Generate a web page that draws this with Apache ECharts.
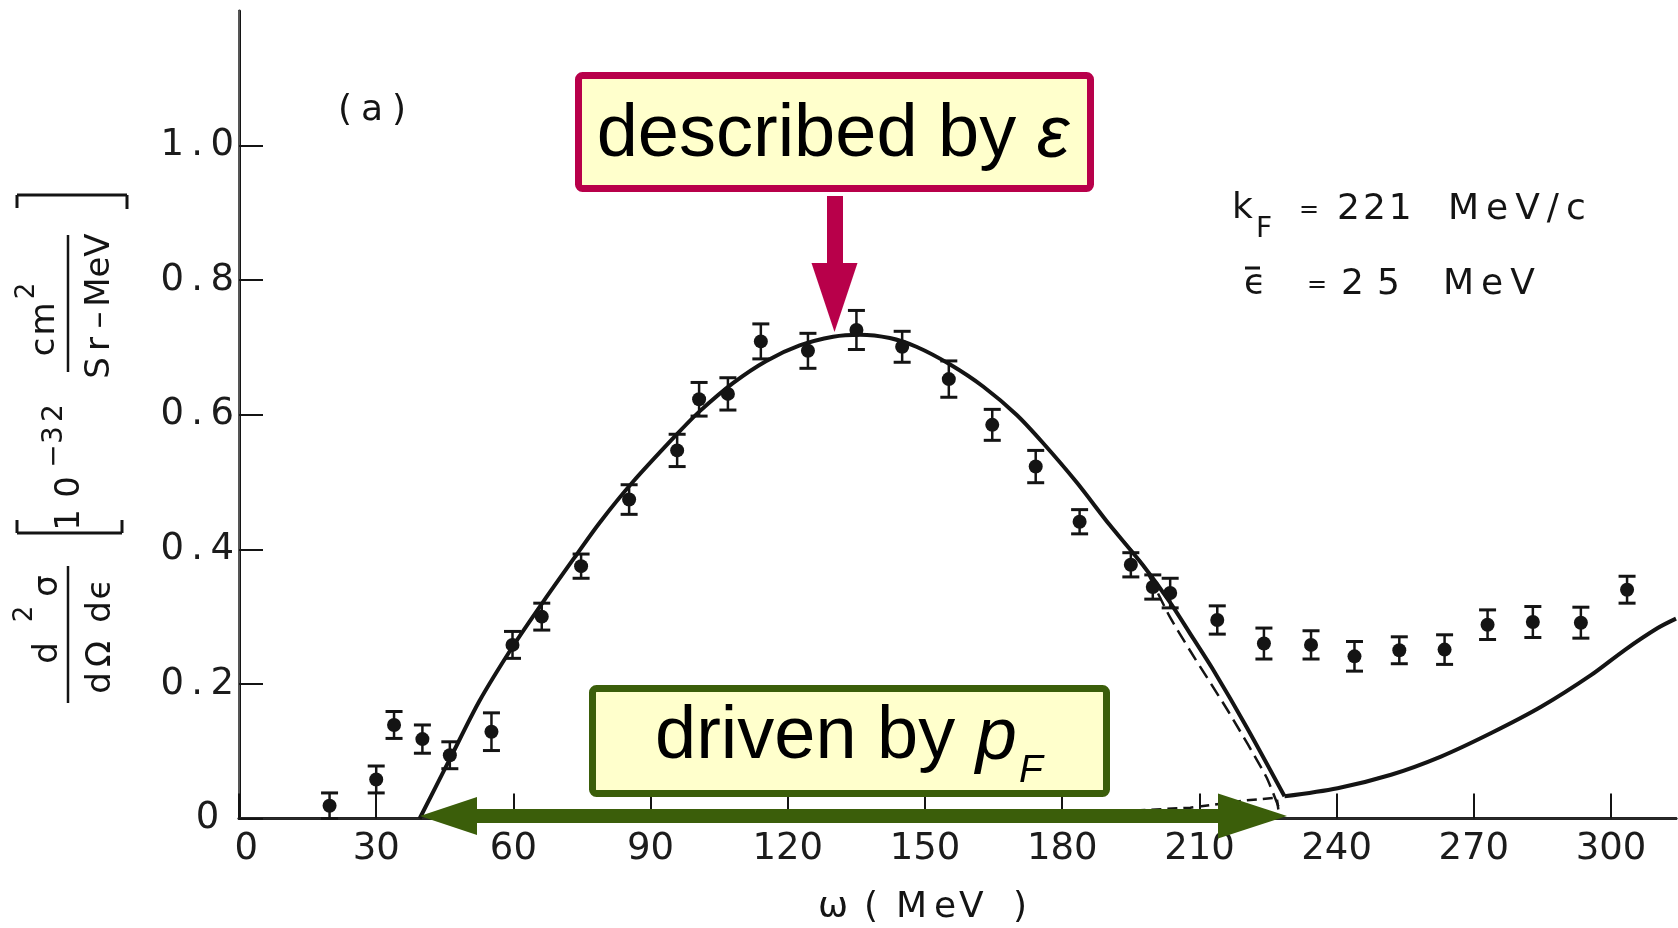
<!DOCTYPE html>
<html>
<head>
<meta charset="utf-8">
<script src="https://cdn.jsdelivr.net/npm/echarts@6/dist/echarts.min.js"></script>
<style>
  html, body { margin: 0; padding: 0; background: #ffffff; }
  #chart { width: 1678px; height: 928px; }
</style>
</head>
<body>
<div id="chart"></div>
<script>
// Measured inclusive cross section: energy transfer omega (MeV),
// d2sigma/dOmega/de (1e-32 cm^2 / sr-MeV) and its error
const omega = [19.8, 30.0, 33.9, 40.1, 46.1, 55.2, 59.8, 66.2, 74.8, 85.3, 95.8, 100.6, 106.9, 114.1,
  124.4, 135.0, 145.0, 155.2, 164.7, 174.2, 183.8, 195.0, 199.8, 203.6, 213.9, 224.1, 234.4,
  243.9, 253.7, 263.6, 273.0, 282.9, 293.4, 303.5];
const sigma = [0.019, 0.058, 0.139, 0.118, 0.094, 0.129, 0.258, 0.300, 0.375, 0.474, 0.547, 0.623, 0.631, 0.709,
  0.695, 0.726, 0.701, 0.653, 0.585, 0.523, 0.441, 0.377, 0.344, 0.335, 0.295, 0.260, 0.258,
  0.241, 0.250, 0.251, 0.288, 0.292, 0.291, 0.340];
const sigmaErr = [0.019, 0.020, 0.020, 0.021, 0.020, 0.028, 0.020, 0.020, 0.018, 0.022, 0.024, 0.025, 0.024, 0.026,
  0.026, 0.029, 0.023, 0.027, 0.023, 0.024, 0.018, 0.018, 0.018, 0.022, 0.021, 0.023, 0.021,
  0.022, 0.020, 0.022, 0.022, 0.023, 0.023, 0.020];

// Fermi-gas quasielastic curve (solid), up to the kinematic edge
const qeOmega = [39.5, 46.0, 52.6, 59.9, 66.5, 73.8, 78.9, 86.1, 95.6, 100.7, 108.0, 115.3, 122.6, 129.9,
  135.7, 142.3, 148.1, 155.4, 162.7, 170.0, 175.8, 183.1, 190.4, 197.7, 203.5, 208.6, 213.0, 220.3, 228.6];
const qeSigma = [0.000, 0.087, 0.175, 0.256, 0.322, 0.392, 0.440, 0.500, 0.570, 0.605, 0.647, 0.680, 0.703, 0.716,
  0.719, 0.714, 0.701, 0.675, 0.642, 0.600, 0.558, 0.500, 0.436, 0.376, 0.322, 0.268, 0.221, 0.136, 0.033];

// Solid curve beyond the edge (pion production region)
const tailOmega = [228.6, 240.2, 251.9, 262.8, 273.8, 284.7, 295.6, 302.9, 310.2, 314.2];
const tailSigma = [0.033, 0.045, 0.065, 0.092, 0.127, 0.166, 0.213, 0.250, 0.283, 0.297];

// Dashed variant of the quasielastic falloff
const dashOmega = [190.4, 197.7, 203.5, 207.9, 216.6, 224.6, 227.6];
const dashSigma = [0.436, 0.376, 0.300, 0.250, 0.156, 0.062, 0.012];
const dashBaseOmega = [196.0, 208.0, 220.3, 226.9, 227.4];
const dashBaseSigma = [0.012, 0.016, 0.027, 0.031, 0.006];

// Tick labels
const xTickLabels = ['0', '30', '60', '90', '120', '150', '180', '210', '240', '270', '300'];
const yTickLabels = ['0', '0.2', '0.4', '0.6', '0.8', '1.0'];

const pairs = (xs, ys) => xs.map((x, i) => [x, ys[i]]);

const INK = '#141414';
const FIG_FONT = '"DejaVu Sans"';
const NOTE_FONT = '"Liberation Sans"';
const RED = '#B8004A';
const GREEN = '#3B5E0A';
const NOTE_FILL = '#FFFFCC';
const THIN = '\u2009';

const measureCtx = document.createElement('canvas').getContext('2d');
function textWidth(str, size, family) {
  measureCtx.font = size + 'px ' + family;
  return measureCtx.measureText(str).width;
}

// horizontal text placed glyph by glyph with extra tracking; y is the baseline
function spacedRow(str, x0, baseline, size, gap) {
  const out = [];
  let x = x0;
  for (const ch of str) {
    out.push({
      type: 'text', x: x, y: baseline - 0.36 * size, z: 50,
      style: { text: ch, fontSize: size, fontFamily: FIG_FONT, fill: INK, align: 'left', verticalAlign: 'middle' }
    });
    x += textWidth(ch, size, FIG_FONT) + gap;
  }
  return out;
}

// glyph at explicit left x, on a baseline
function glyph(ch, x, baseline, size) {
  return {
    type: 'text', x: x, y: baseline - 0.36 * size, z: 50,
    style: { text: ch, fontSize: size, fontFamily: FIG_FONT, fill: INK, align: 'left', verticalAlign: 'middle' }
  };
}

// glyph turned 90 degrees counter-clockwise, centred on (cx, cy)
function upGlyph(ch, cx, cy, size) {
  return {
    type: 'text', x: cx, y: cy, rotation: Math.PI / 2, z: 50,
    style: { text: ch, fontSize: size, fontFamily: FIG_FONT, fill: INK, align: 'center', verticalAlign: 'middle' }
  };
}

function seg(x1, y1, x2, y2, w, color) {
  return { type: 'line', z: 50, shape: { x1, y1, x2, y2 }, style: { stroke: color || INK, lineWidth: w } };
}

const graphics = [];

// panel tag
graphics.push(...spacedRow('(a)', 338, 124, 36, 9));

// model parameters
graphics.push(glyph('k', 1232, 222, 36));
graphics.push(glyph('F', 1256, 240, 28));
graphics.push(glyph('=', 1299, 219, 24));
graphics.push(...spacedRow('221', 1337, 223, 36, 3));
graphics.push(...spacedRow('MeV/c', 1448, 223, 36, 7));
graphics.push(glyph('\u03f5', 1244, 298, 36));
graphics.push(seg(1245, 268, 1260, 268, 3));
graphics.push(glyph('=', 1307, 294, 24));
graphics.push(...spacedRow('25', 1341, 298, 36, 13));
graphics.push(...spacedRow('MeV', 1443, 298, 36, 7));

// x axis title
[['\u03c9', 818], ['(', 864], ['M', 896], ['e', 934], ['V', 959], [')', 1013]]
  .forEach(([ch, x]) => graphics.push(glyph(ch, x, 921, 36)));

// y axis title, written upward
graphics.push(seg(17, 195, 127, 195, 3), seg(17, 195, 17, 208, 3), seg(127, 195, 127, 209, 3));
graphics.push(seg(17, 533, 122, 533, 3), seg(17, 533, 17, 520, 3), seg(122, 533, 122, 520, 3));
[['S', 368], ['r', 344], ['\u2013', 320], ['M', 292], ['e', 267], ['V', 245]]
  .forEach(([ch, y]) => graphics.push(upGlyph(ch, 100, y, 34)));
graphics.push(upGlyph('c', 45, 347, 34), upGlyph('m', 45, 319, 34), upGlyph('2', 27, 291, 26));
graphics.push(seg(68, 235, 68, 372, 2.5));
graphics.push(upGlyph('1', 70, 520, 34), upGlyph('0', 70, 487, 34));
graphics.push(upGlyph('\u2212', 55, 456, 28), upGlyph('3', 55, 435, 28), upGlyph('2', 55, 413, 28));
graphics.push(upGlyph('d', 48, 653, 34), upGlyph('2', 25, 614, 26), upGlyph('\u03c3', 48, 586, 34));
graphics.push(seg(68, 566, 68, 703, 2.5));
[['d', 683], ['\u03a9', 654], ['d', 612], ['\u03f5', 589]]
  .forEach(([ch, y]) => graphics.push(upGlyph(ch, 101, y, 34)));

// callout: peak region
graphics.push({
  type: 'rect', z: 100,
  shape: { x: 578.5, y: 75.5, width: 512, height: 113, r: 4 },
  style: { fill: NOTE_FILL, stroke: RED, lineWidth: 7 }
});
graphics.push({
  type: 'text', x: 833, y: 136, z: 101,
  style: {
    text: '{n|described by }{e|\u03b5}',
    align: 'center', verticalAlign: 'middle',
    rich: {
      n: { fontSize: 74, fontFamily: NOTE_FONT, fill: '#000' },
      e: { fontSize: 74, fontFamily: NOTE_FONT, fontStyle: 'italic', fill: '#000' }
    }
  }
});
graphics.push({ type: 'rect', z: 100, shape: { x: 827, y: 196, width: 16, height: 68 }, style: { fill: RED } });
graphics.push({
  type: 'polygon', z: 100,
  shape: { points: [[811.5, 263], [857.5, 263], [834.5, 332]] }, style: { fill: RED }
});

// callout: width of the peak
graphics.push({
  type: 'rect', z: 100,
  shape: { x: 592.5, y: 688.5, width: 514, height: 105, r: 4 },
  style: { fill: NOTE_FILL, stroke: GREEN, lineWidth: 7 }
});
graphics.push({
  type: 'text', x: 655, y: 738, z: 101,
  style: {
    text: '{n|driven by }{i|p}',
    align: 'left', verticalAlign: 'middle',
    rich: {
      n: { fontSize: 74, fontFamily: NOTE_FONT, fill: '#000' },
      i: { fontSize: 74, fontFamily: NOTE_FONT, fontStyle: 'italic', fill: '#000' }
    }
  }
});
graphics.push({
  type: 'text', x: 1019, y: 771, z: 101,
  style: { text: 'F', fontSize: 39, fontFamily: NOTE_FONT, fontStyle: 'italic', fill: '#000', align: 'left', verticalAlign: 'middle' }
});
graphics.push({ type: 'rect', z: 100, shape: { x: 475, y: 809, width: 745, height: 14 }, style: { fill: GREEN } });
graphics.push({
  type: 'polygon', z: 100,
  shape: { points: [[420, 816], [477, 797], [477, 835]] }, style: { fill: GREEN }
});
graphics.push({
  type: 'polygon', z: 100,
  shape: { points: [[1287, 816], [1218, 793.5], [1218, 838.5]] }, style: { fill: GREEN }
});

const chart = echarts.init(document.getElementById('chart'), null, { renderer: 'canvas' });

const X_MAX = 314.2;
const Y_MAX = 1.2;

function errorBar(params, api) {
  const x = api.value(0), y = api.value(1), e = api.value(2);
  const c = api.coord([x, y]);
  const hi = api.coord([x, y + e])[1];
  const lo = api.coord([x, y - e])[1];
  const cap = 8.5;
  return {
    type: 'group',
    children: [
      { type: 'line', shape: { x1: c[0], y1: hi, x2: c[0], y2: lo }, style: { stroke: INK, lineWidth: 2.5 } },
      { type: 'line', shape: { x1: c[0] - cap, y1: hi, x2: c[0] + cap, y2: hi }, style: { stroke: INK, lineWidth: 3 } },
      { type: 'line', shape: { x1: c[0] - cap, y1: lo, x2: c[0] + cap, y2: lo }, style: { stroke: INK, lineWidth: 3 } },
      { type: 'circle', shape: { cx: c[0], cy: c[1], r: 7 }, style: { fill: INK } }
    ]
  };
}

const lineBase = { type: 'line', symbol: 'none', silent: true, animation: false, xAxisIndex: 0, yAxisIndex: 0 };

chart.setOption({
  backgroundColor: '#ffffff',
  animation: false,
  grid: { left: 239, right: 2, top: 11, bottom: 109.5, containLabel: false },
  xAxis: [
    {
      type: 'value', position: 'bottom', min: 0, max: X_MAX, interval: 30,
      axisLine: { show: true, lineStyle: { color: INK, width: 3 } },
      axisTick: { show: true, inside: true, length: 25, lineStyle: { color: INK, width: 2 } },
      axisLabel: {
        margin: 12, color: '#1c1c1c', fontSize: 37, fontFamily: 'DejaVu Sans', showMaxLabel: false,
        formatter: (v) => {
          const i = Math.round(v / 30);
          if (!(Math.abs(v - i * 30) < 1e-6 && i < xTickLabels.length)) return '';
          // the origin label sits just right of the corner
          return i === 0 ? THIN + THIN + xTickLabels[i] : xTickLabels[i];
        }
      },
      splitLine: { show: false }
    },
    {
      type: 'value', position: 'top', min: 0, max: X_MAX, interval: 30,
      axisLine: { show: true, lineStyle: { color: '#2a2a2a', width: 2.5 } },
      axisTick: { show: false }, axisLabel: { show: false }, splitLine: { show: false }
    }
  ],
  yAxis: [
    {
      type: 'value', position: 'left', min: 0, max: Y_MAX, interval: 0.2,
      axisLine: { show: true, lineStyle: { color: INK, width: 3 } },
      axisTick: { show: true, inside: true, length: 24, lineStyle: { color: INK, width: 2 } },
      axisLabel: {
        margin: 5, color: '#1c1c1c', fontSize: 37, fontFamily: 'DejaVu Sans', showMaxLabel: false,
        formatter: (v) => {
          const i = Math.round(v / 0.2);
          if (!(Math.abs(v - i * 0.2) < 1e-6 && i < yTickLabels.length)) return '';
          const s = yTickLabels[i];
          // wide-set decimal point; the bare zero is set in from the axis
          return s.indexOf('.') >= 0 ? s.replace('.', THIN + '.' + THIN) : s + THIN + THIN;
        }
      },
      splitLine: { show: false }
    },
    {
      type: 'value', position: 'right', min: 0, max: Y_MAX, interval: 0.2,
      axisLine: { show: true, lineStyle: { color: '#555', width: 2 } },
      axisTick: { show: false }, axisLabel: { show: false }, splitLine: { show: false }
    }
  ],
  series: [
    Object.assign({}, lineBase, {
      name: 'quasielastic', data: pairs(qeOmega, qeSigma), smooth: 0.3,
      lineStyle: { color: INK, width: 4 }, z: 3
    }),
    Object.assign({}, lineBase, {
      name: 'tail', data: pairs(tailOmega, tailSigma), smooth: 0.3,
      lineStyle: { color: INK, width: 4 }, z: 3
    }),
    Object.assign({}, lineBase, {
      name: 'dashed', data: pairs(dashOmega, dashSigma), smooth: 0.2,
      lineStyle: { color: INK, width: 2.5, type: [14, 7] }, z: 3
    }),
    Object.assign({}, lineBase, {
      name: 'dashed base', data: pairs(dashBaseOmega, dashBaseSigma), smooth: false,
      lineStyle: { color: INK, width: 2.5, type: [10, 6] }, z: 3
    }),
    {
      name: 'data', type: 'custom', renderItem: errorBar, clip: false, silent: true,
      xAxisIndex: 0, yAxisIndex: 0, z: 4,
      encode: { x: 0, y: 1 },
      data: omega.map((w, i) => [w, sigma[i], sigmaErr[i]])
    }
  ],
  graphic: { elements: graphics }
});
</script>
</body>
</html>
